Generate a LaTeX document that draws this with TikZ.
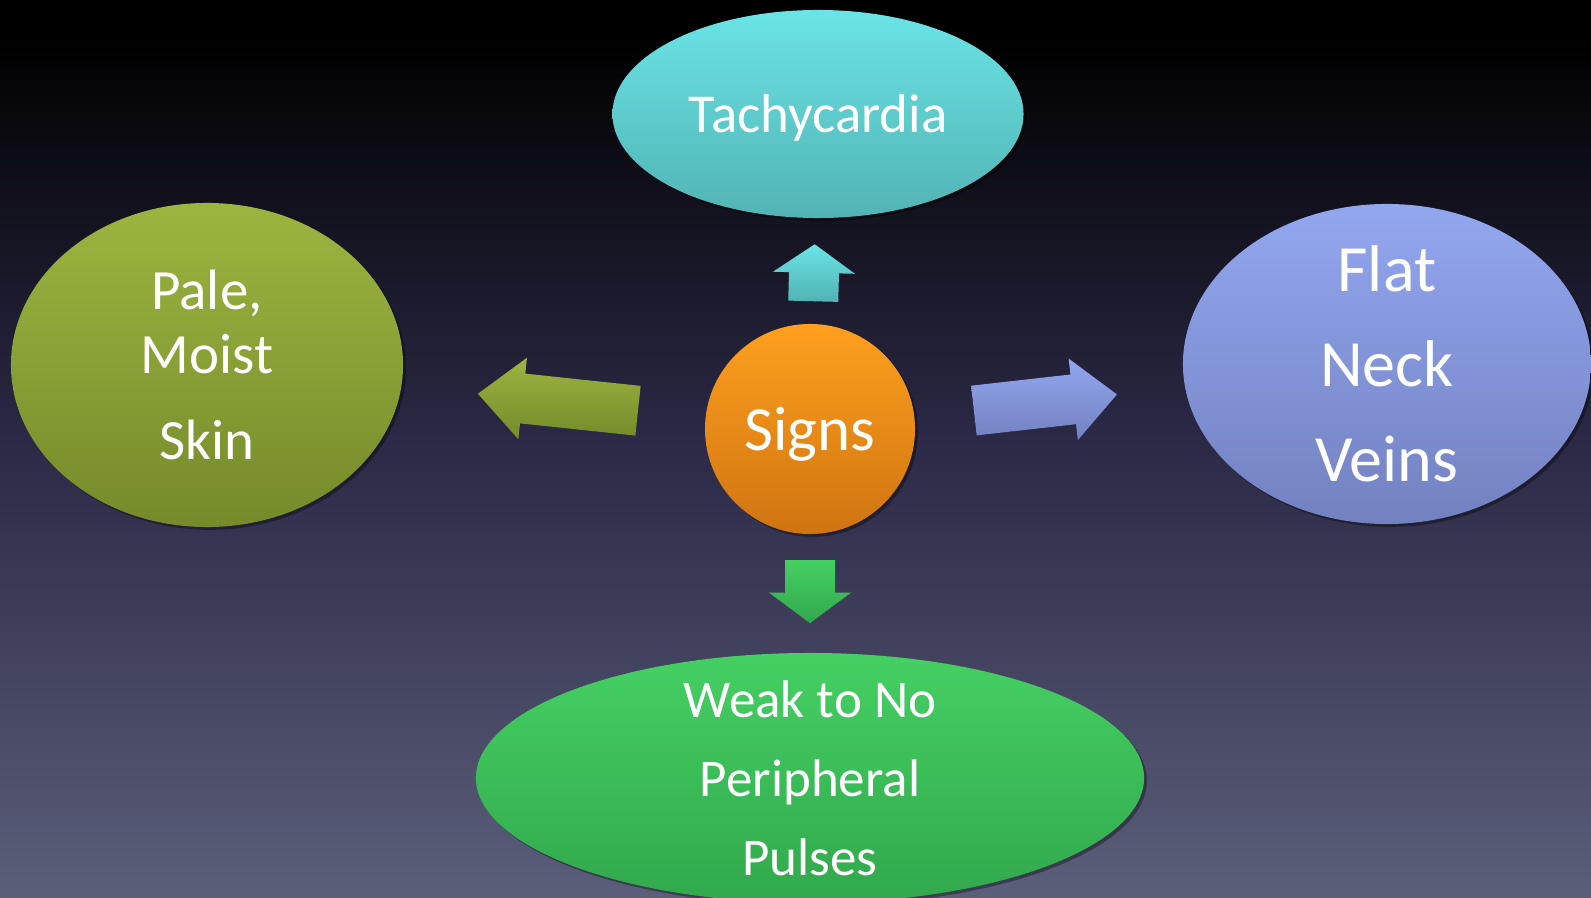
\documentclass[tikz,border=0pt]{standalone}
\usepackage{fontspec}
\setmainfont{Carlito}
\usetikzlibrary{shapes.geometric,shadows}
\definecolor{bgtop}{HTML}{000000}
\definecolor{bgmid}{HTML}{2C2A47}
\definecolor{bgbot}{HTML}{5B5F7A}
\definecolor{tachytop}{HTML}{6AE4E6}
\definecolor{tachybot}{HTML}{52B3B4}
\definecolor{paletop}{HTML}{9CB540}
\definecolor{palebot}{HTML}{758A2A}
\definecolor{flattop}{HTML}{93A7F0}
\definecolor{flatbot}{HTML}{7281C0}
\definecolor{pulsetop}{HTML}{45D063}
\definecolor{pulsebot}{HTML}{31A84C}
\definecolor{signstop}{HTML}{FFA01E}
\definecolor{signsbot}{HTML}{CF7411}
\pgfdeclareverticalshading{slidebg}{100bp}{color(0bp)=(bgbot); color(25bp)=(bgbot);
  color(50bp)=(bgmid); color(73bp)=(bgtop); color(100bp)=(bgtop)}

\begin{document}
\begin{tikzpicture}[x=0.025cm,y=-0.025cm,
  bubble/.style={ellipse,inner sep=0pt,
                 drop shadow={shadow xshift=2pt,shadow yshift=-2pt,fill=black,opacity=.35}},
  txt/.style={text=white,align=center},
  pics/blockarrow/.style n args={4}{code={
    \shade[top color=#3,bottom color=#4]
      (-#1/2,-25) -- (#1/2-#2,-25) -- (#1/2-#2,-41) -- (#1/2,0)
      -- (#1/2-#2,41) -- (#1/2-#2,25) -- (-#1/2,25) -- cycle;}}]
  \useasboundingbox (0,0) rectangle (1591,898);
  \shade[shading=slidebg] (0,0) rectangle (1591,898);

  \node[bubble,top color=signstop,bottom color=signsbot,minimum width=5.25cm,minimum height=5.25cm,
        label={[txt,yshift=-4pt,font=\fontsize{44.8}{54}\selectfont]center:Signs}] (signs) at (810,429) {};
  \node[bubble,top color=tachytop,bottom color=tachybot,minimum width=10.275cm,minimum height=5.2cm,
        label={[txt,yshift=-3pt,font=\fontsize{39}{47}\selectfont]center:Tachycardia}] (tachy) at (818,114) {};
  \node[bubble,top color=paletop,bottom color=palebot,minimum width=9.8cm,minimum height=8.1cm,
        label={[txt,font=\fontsize{40.5}{45.5}\selectfont]center:{Pale,\\Moist\\[15.7pt]Skin}}] (pale) at (207,365) {};
  \node[bubble,top color=flattop,bottom color=flatbot,minimum width=10.2cm,minimum height=8cm,
        label={[txt,font=\fontsize{47}{67.6}\selectfont]center:{Flat\\Neck\\Veins}}] (flat) at (1387,364) {};
  \node[bubble,top color=pulsetop,bottom color=pulsebot,minimum width=16.7cm,minimum height=6.25cm,
        label={[txt,font=\fontsize{37.7}{56.2}\selectfont]center:{Weak to No\\Peripheral\\Pulses}}] (pulses) at (810,778) {};

  % block arrows from the centre out
  \path (signs.center) -- (tachy.center)
    pic[pos=.496,sloped,allow upside down]{blockarrow={57}{28.5}{tachytop}{tachybot}};
  \path (signs.center) -- (pale.center)
    pic[pos=.418,sloped,allow upside down]{blockarrow={161}{45}{paletop}{palebot}};
  \path (signs.center) -- (flat.center)
    pic[pos=.408,sloped,allow upside down]{blockarrow={144}{44}{flattop}{flatbot}};
  \path (signs.center) -- (pulses.center)
    pic[pos=.466,sloped,allow upside down]{blockarrow={63}{30.5}{pulsetop}{pulsebot}};
\end{tikzpicture}
\end{document}
